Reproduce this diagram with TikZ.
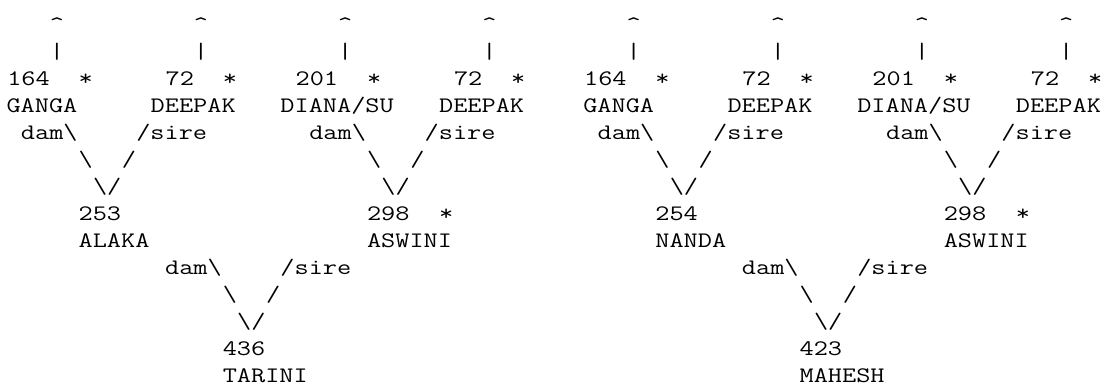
\documentclass[tikz,border=0pt]{standalone}
\usepackage{fontspec}
\setmonofont{Latin Modern Mono}[FakeStretch=1.243]
\usepackage{tikz}

\tikzset{
  ascii/.style={font=\ttfamily\fontsize{16.6pt}{20.25pt}\selectfont, inner sep=0pt, outer sep=0pt, anchor=base west},
  asciinum/.style={ascii, anchor=base east}
}

\begin{document}
\begin{tikzpicture}[x=10.815pt, y=-20.25pt]
  \useasboundingbox (-4.875pt,23.25pt) rectangle (825.375pt,-264pt);

  % grandparents, same four on both halves
  \foreach \h in {0,40} {
    \foreach \k/\num/\nm/\c in {0/164/GANGA/0, 1/72/DEEPAK/10, 2/201/{DIANA/SU}/19, 3/72/DEEPAK/30} {
      \node[ascii] (caret-\h-\k) at (\h+10*\k+3,0) {\textasciicircum};
      \node[ascii] (bar-\h-\k) at (\h+10*\k+3,1) {|};
      \node[asciinum] (num-\h-\k) at (\h+10*\k+3,2) {\num};
      \node[ascii] (star-\h-\k) at (\h+10*\k+5,2) {*};
      \node[ascii] (name-\h-\k) at (\h+\c,3) {\nm};
    }
  }

  % dam/sire forks
  \foreach \b/\r in {0/4, 20/4, 10/9, 40/4, 60/4, 50/9} {
    \node[ascii] (dam-\b) at (\b+1,\r) {dam\textbackslash};
    \node[ascii] (sire-\b) at (\b+9,\r) {/sire};
    \node[ascii] (bsl-\b) at (\b+5,\r+1) {\textbackslash};
    \node[ascii] (sl-\b) at (\b+8,\r+1) {/};
    \node[ascii] (tip-\b) at (\b+6,\r+2) {\textbackslash/};
  }

  % offspring
  \foreach \b/\r/\num/\nm in {0/7/253/ALAKA, 20/7/298/ASWINI, 10/12/436/TARINI, 40/7/254/NANDA, 60/7/298/ASWINI, 50/12/423/MAHESH} {
    \node[ascii] (kid-\b) at (\b+5,\r) {\num};
    \node[ascii] (kidname-\b) at (\b+5,\r+1) {\nm};
  }
  \node[ascii] (kidstar-20) at (30,7) {*};
  \node[ascii] (kidstar-60) at (70,7) {*};
\end{tikzpicture}
\end{document}
